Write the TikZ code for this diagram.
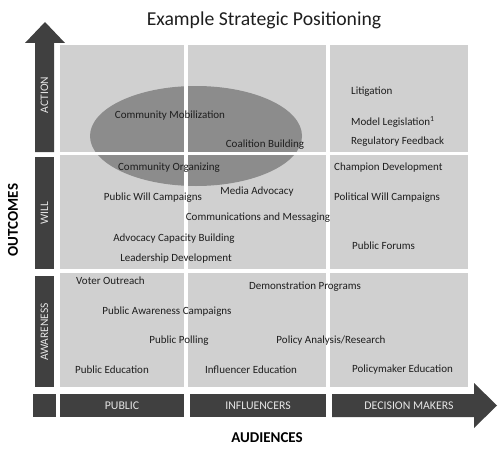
\documentclass[tikz,border=0pt]{standalone}
\usepackage{fontspec}
\setmainfont{Carlito}
\definecolor{spCell}{RGB}{208, 208, 208}
\definecolor{spOval}{RGB}{140, 140, 140}
\definecolor{spBar} {RGB}{ 64,  64,  64}
\definecolor{spInk} {RGB}{ 30,  30,  30}
\definecolor{spOnBar}{RGB}{230, 230, 230}
\usetikzlibrary{
  arrows.meta,
  positioning,
  shapes.geometric,
}

\begin{document}
\begin{tikzpicture}[
  x=1pt, y=-1pt,
  cell/.style  ={fill=spCell},
  bar/.style   ={fill=spBar},
  vlbl/.style  ={rotate=90, font=\fontsize{11.5}{13}\selectfont, text=spOnBar},
  hlbl/.style  ={font=\fontsize{11.8}{13}\selectfont, text=spOnBar},
  item/.style  ={font=\fontsize{11}{12}\selectfont, text=spInk, inner sep=0pt},
  iteml/.style ={item, anchor=west},
  axis/.style  ={font=\fontsize{15}{17}\selectfont\bfseries, text=black},
]
  \useasboundingbox (0,0) rectangle (500,452);

  % Title
  \node[font=\fontsize{19.7}{22}\selectfont, text=spInk] (title) at (264,20)
    {Example Strategic Positioning};

  % Grid cells: three audiences by three outcomes
  \fill[cell] (60,45)   rectangle (184,152);
  \fill[cell] (188,45)  rectangle (326,152);
  \fill[cell] (330,45)  rectangle (468,152);
  \fill[cell] (60,155)  rectangle (184,269);
  \fill[cell] (188,155) rectangle (326,269);
  \fill[cell] (330,155) rectangle (468,269);
  \fill[cell] (60,273)  rectangle (184,387);
  \fill[cell] (188,273) rectangle (326,387);
  \fill[cell] (330,273) rectangle (468,387);

  % Oval over the public/influencers action-will corner, cut by the gaps
  \node[ellipse, fill=spOval, minimum width=212pt, minimum height=100pt,
        inner sep=0pt] (oval) at (196,136) {};
  \fill[white] (184,45)  rectangle (188,387);
  \fill[white] (60,152)  rectangle (326,155);

  % Outcomes axis (left), arrow pointing up
  \fill[bar] (35,152) -- (35,43) -- (25,43) -- (45,22) -- (65,43)
             -- (54,43) -- (54,152) -- cycle;
  \fill[bar] (35,157) rectangle (54,269);
  \fill[bar] (35,276) rectangle (54,387);
  \node[vlbl] (action)    at (44.5,95)  {ACTION};
  \node[vlbl] (will)      at (44.5,213) {WILL};
  \node[vlbl] (awareness) at (44.5,332) {AWARENESS};

  % Audiences axis (bottom), arrow pointing right
  \fill[bar] (33,394)  rectangle (56,417);
  \fill[bar] (60,394)  rectangle (184,417);
  \fill[bar] (190,394) rectangle (326,417);
  \fill[bar] (332,394) -- (474,394) -- (474,383) -- (497,405.5)
             -- (474,428) -- (474,417) -- (332,417) -- cycle;
  \node[hlbl] (public)      at (122,406) {PUBLIC};
  \node[hlbl] (influencers) at (258,406) {INFLUENCERS};
  \node[hlbl] (decision)    at (409,406) {DECISION MAKERS};

  \node[axis, rotate=90] (outcomes)  at (13,220)  {OUTCOMES};
  \node[axis]            (audiences) at (267,438) {AUDIENCES};

  % Action row
  \node[item]  (mobil)   at (170,116) {Community Mobilization};
  \node[item]  (coal)    at (265,145) {Coalition Building};
  \node[iteml] (litig)   at (351,92)  {Litigation};
  \node[iteml] (model)   at (351,122) {Model Legislation\textsuperscript{1}};
  \node[iteml] (regul)   at (351,142) {Regulatory Feedback};

  % Will row
  \node[item]  (organ)   at (169,168) {Community Organizing};
  \node[item]  (pubwill) at (153,198) {Public Will Campaigns};
  \node[item]  (media)   at (257,192) {Media Advocacy};
  \node[item]  (comms)   at (258,218) {Communications and Messaging};
  \node[item]  (capac)   at (174,239) {Advocacy Capacity Building};
  \node[item]  (leader)  at (176,259) {Leadership Development};
  \node[iteml] (champ)   at (334,168) {Champion Development};
  \node[iteml] (polwill) at (334,198) {Political Will Campaigns};
  \node[iteml] (forums)  at (352,246) {Public Forums};

  % Awareness row
  \node[iteml] (voter)   at (76,281)  {Voter Outreach};
  \node[item]  (demo)    at (305,287) {Demonstration Programs};
  \node[item]  (pubaw)   at (167,312) {Public Awareness Campaigns};
  \node[item]  (poll)    at (179,341) {Public Polling};
  \node[item]  (policy)  at (331,341) {Policy Analysis/Research};
  \node[iteml] (pubedu)  at (75,370)  {Public Education};
  \node[item]  (infedu)  at (251,370) {Influencer Education};
  \node[iteml] (poledu)  at (352,370) {Policymaker Education};
\end{tikzpicture}
\end{document}
